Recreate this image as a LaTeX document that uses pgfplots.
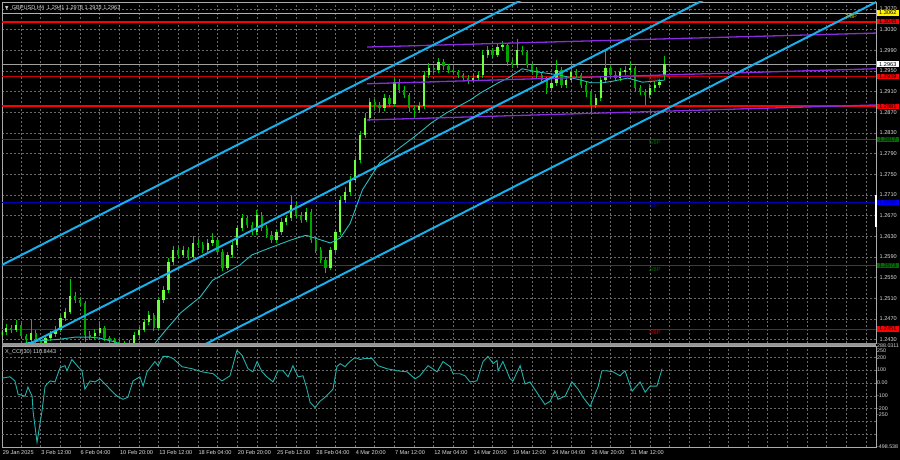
\documentclass[border=0pt]{standalone}
\usepackage{pgfplots}
\usepackage{pgfplotstable}
\pgfplotsset{compat=1.18}
\usepackage{fontspec}
\setmainfont{Liberation Sans}
\newfontfamily\dejavu{DejaVu Sans}
\definecolor{bull}{RGB}{110,255,60}
\definecolor{bear}{RGB}{0,165,0}
\definecolor{wick}{RGB}{0,200,0}
\definecolor{chan}{RGB}{25,175,235}
\definecolor{purp}{RGB}{138,43,226}
\definecolor{ma}{RGB}{40,190,190}
\definecolor{cci}{RGB}{32,178,170}
\definecolor{gridc}{RGB}{105,105,105}
\definecolor{frame}{RGB}{170,170,170}
\definecolor{txt}{RGB}{220,220,220}
\definecolor{lvred}{RGB}{255,0,0}
\definecolor{lvred2}{RGB}{200,0,0}
\definecolor{lvgreen}{RGB}{0,105,0}
\definecolor{lvblue}{RGB}{0,0,175}
\definecolor{lvyellow}{RGB}{200,200,0}
\definecolor{lvgrey}{RGB}{160,160,160}
\definecolor{sep}{RGB}{150,150,150}

\pgfplotstableread{
i o h l c
0 1.2440 1.2452 1.2435 1.2445
2 1.2445 1.2460 1.2440 1.2453
4 1.2453 1.2459 1.2443 1.2449
6 1.2449 1.2468 1.2444 1.2458
8 1.2458 1.2462 1.2431 1.2437
10 1.2437 1.2441 1.2423 1.2429
12 1.2429 1.2468 1.2425 1.2443
14 1.2443 1.2448 1.2422 1.2429
16 1.2429 1.2434 1.2418 1.2424
18 1.2424 1.2438 1.2420 1.2433
20 1.2433 1.2447 1.2428 1.2441
22 1.2441 1.2456 1.2436 1.2449
24 1.2449 1.2478 1.2445 1.2472
26 1.2472 1.2491 1.2466 1.2484
28 1.2484 1.2547 1.2480 1.2515
30 1.2515 1.2522 1.2500 1.2507
32 1.2507 1.2513 1.2495 1.2501
34 1.2501 1.2505 1.2426 1.2439
36 1.2439 1.2446 1.2430 1.2437
38 1.2437 1.2450 1.2432 1.2443
40 1.2443 1.2466 1.2438 1.2453
42 1.2453 1.2457 1.2427 1.2433
44 1.2433 1.2438 1.2423 1.2429
46 1.2429 1.2434 1.2420 1.2426
48 1.2426 1.2430 1.2416 1.2422
50 1.2422 1.2428 1.2413 1.2420
52 1.2420 1.2430 1.2415 1.2424
54 1.2424 1.2445 1.2420 1.2439
56 1.2439 1.2455 1.2434 1.2449
58 1.2449 1.2470 1.2444 1.2464
60 1.2464 1.2486 1.2458 1.2478
62 1.2478 1.2482 1.2447 1.2453
64 1.2453 1.2513 1.2449 1.2507
66 1.2507 1.2534 1.2500 1.2526
68 1.2526 1.2588 1.2520 1.2580
70 1.2580 1.2612 1.2575 1.2604
72 1.2604 1.2610 1.2588 1.2594
74 1.2594 1.2612 1.2588 1.2604
76 1.2604 1.2610 1.2584 1.2590
78 1.2590 1.2630 1.2586 1.2617
80 1.2617 1.2624 1.2607 1.2613
82 1.2613 1.2619 1.2598 1.2604
84 1.2604 1.2624 1.2599 1.2617
86 1.2617 1.2636 1.2612 1.2623
88 1.2623 1.2628 1.2594 1.2600
90 1.2600 1.2605 1.2563 1.2569
92 1.2569 1.2600 1.2564 1.2594
94 1.2594 1.2620 1.2588 1.2613
96 1.2613 1.2652 1.2608 1.2646
98 1.2646 1.2673 1.2640 1.2665
100 1.2665 1.2670 1.2646 1.2652
102 1.2652 1.2658 1.2632 1.2638
104 1.2638 1.2680 1.2633 1.2671
106 1.2671 1.2676 1.2640 1.2646
108 1.2646 1.2652 1.2627 1.2633
110 1.2633 1.2640 1.2617 1.2623
112 1.2623 1.2645 1.2618 1.2638
114 1.2638 1.2665 1.2632 1.2658
116 1.2658 1.2672 1.2652 1.2665
118 1.2665 1.2710 1.2660 1.2691
120 1.2691 1.2697 1.2665 1.2671
122 1.2671 1.2677 1.2656 1.2662
124 1.2662 1.2684 1.2657 1.2677
126 1.2677 1.2682 1.2617 1.2623
128 1.2623 1.2628 1.2598 1.2604
130 1.2604 1.2610 1.2578 1.2584
132 1.2584 1.2590 1.2559 1.2569
134 1.2569 1.2610 1.2564 1.2604
136 1.2604 1.2645 1.2598 1.2638
138 1.2638 1.2708 1.2632 1.2700
140 1.2700 1.2725 1.2694 1.2716
142 1.2716 1.2746 1.2710 1.2739
144 1.2739 1.2786 1.2733 1.2778
146 1.2778 1.2834 1.2772 1.2826
148 1.2826 1.2868 1.2820 1.2859
150 1.2859 1.2898 1.2853 1.2890
152 1.2890 1.2896 1.2876 1.2884
154 1.2884 1.2890 1.2870 1.2878
156 1.2878 1.2905 1.2872 1.2898
158 1.2898 1.2904 1.2880 1.2886
160 1.2886 1.2938 1.2880 1.2928
162 1.2928 1.2934 1.2907 1.2913
164 1.2913 1.2920 1.2897 1.2903
166 1.2903 1.2908 1.2870 1.2878
168 1.2878 1.2884 1.2861 1.2874
170 1.2874 1.2890 1.2868 1.2882
172 1.2882 1.2950 1.2876 1.2942
174 1.2942 1.2965 1.2936 1.2956
176 1.2956 1.2962 1.2946 1.2952
178 1.2952 1.2975 1.2946 1.2967
180 1.2967 1.2972 1.2952 1.2959
182 1.2959 1.2964 1.2946 1.2952
184 1.2952 1.2958 1.2942 1.2948
186 1.2948 1.2952 1.2936 1.2942
188 1.2942 1.2946 1.2930 1.2936
190 1.2936 1.2942 1.2924 1.2932
192 1.2932 1.2944 1.2926 1.2936
194 1.2936 1.2950 1.2930 1.2942
196 1.2942 1.2990 1.2936 1.2981
198 1.2981 1.2998 1.2975 1.2990
200 1.2990 1.2995 1.2975 1.2981
202 1.2981 1.3004 1.2976 1.2996
204 1.2996 1.3008 1.2990 1.3000
206 1.3000 1.3004 1.2960 1.2967
208 1.2967 1.2972 1.2955 1.2961
210 1.2961 1.3012 1.2956 1.2990
212 1.2990 1.2998 1.2980 1.2986
214 1.2986 1.2990 1.2955 1.2961
216 1.2961 1.2966 1.2946 1.2952
218 1.2952 1.2958 1.2936 1.2942
220 1.2942 1.2948 1.2926 1.2932
222 1.2932 1.2938 1.2905 1.2917
224 1.2917 1.2934 1.2911 1.2927
226 1.2927 1.2971 1.2921 1.2952
228 1.2952 1.2957 1.2917 1.2923
230 1.2923 1.2940 1.2917 1.2932
232 1.2932 1.2965 1.2926 1.2948
234 1.2948 1.2954 1.2936 1.2942
236 1.2942 1.2946 1.2917 1.2923
238 1.2923 1.2928 1.2900 1.2909
240 1.2909 1.2913 1.2868 1.2884
242 1.2884 1.2905 1.2878 1.2898
244 1.2898 1.2940 1.2892 1.2932
246 1.2932 1.2990 1.2926 1.2956
248 1.2956 1.2960 1.2936 1.2942
250 1.2942 1.2948 1.2930 1.2936
252 1.2936 1.2955 1.2930 1.2948
254 1.2948 1.2960 1.2942 1.2952
256 1.2952 1.2969 1.2946 1.2956
258 1.2956 1.2960 1.2911 1.2917
260 1.2917 1.2923 1.2903 1.2909
262 1.2909 1.2915 1.2884 1.2903
264 1.2903 1.2925 1.2897 1.2917
266 1.2917 1.2930 1.2911 1.2923
268 1.2923 1.2935 1.2917 1.2928
270 1.2941 1.2978 1.2933 1.2963
}\candles

\newcommand\sm{\fontsize{5.6}{6}\selectfont}

\begin{document}
\begin{tikzpicture}
\useasboundingbox (0,0) rectangle (900pt,460pt);
\fill[black] (0,0) rectangle (900pt,460pt);

\begin{axis}[
  at={(2pt,117pt)}, anchor=south west,
  scale only axis, width=874pt, height=341pt,
  xmin=0.24, xmax=356.1, ymin=1.24236, ymax=1.30831,
  axis background/.style={fill=black},
  axis line style={draw=frame, line width=0.8pt},
  xtick={8,16,...,352}, xticklabels={},
  ytick={1.2430,1.2470,1.2510,1.2550,1.2590,1.2630,1.2670,1.2710,1.2750,1.2790,1.2830,1.2870,1.2910,1.2950,1.2990,1.3030,1.3070},
  yticklabel pos=right,
  yticklabel={\pgfmathprintnumber[fixed,fixed zerofill,precision=4,assume math mode=true]{\tick}},
  yticklabel style={font=\sm, text=txt, inner sep=1pt, xshift=2.5pt},
  grid=major,
  major grid style={draw=gridc, dash pattern=on 2pt off 2pt, line width=0.5pt},
  tick style={draw=none},
  clip mode=individual,
]
% level lines
\addplot[lvyellow, line width=0.6pt] coordinates {(0,1.3062) (360,1.3062)};
\addplot[lvred, line width=2pt] coordinates {(0,1.3045) (360,1.3045)};
\addplot[lvgrey, line width=0.7pt] coordinates {(0,1.2963) (360,1.2963)};
\addplot[lvred2, line width=0.6pt] coordinates {(0,1.2939) (360,1.2939)};
\addplot[lvred, line width=2pt] coordinates {(0,1.2881) (360,1.2881)};
\addplot[lvgreen, line width=0.6pt] coordinates {(0,1.2817) (360,1.2817)};
\addplot[lvblue, line width=0.6pt] coordinates {(0,1.2695) (360,1.2695)};
\addplot[lvgreen, line width=0.6pt] coordinates {(0,1.2573) (360,1.2573)};
\addplot[lvred2, line width=0.6pt] coordinates {(0,1.2451) (360,1.2451)};

% candles: wicks
\addplot[draw=none, mark=none, error bars/.cd, y dir=both, y explicit, error mark=none,
  error bar style={draw=wick, line width=0.7pt}]
  table[x=i, y expr={(\thisrow{h}+\thisrow{l})/2}, y error expr={(\thisrow{h}-\thisrow{l})/2}] {\candles};
% bull bodies
\addplot[draw=none, mark=none, error bars/.cd, y dir=both, y explicit, error mark=none,
  error bar style={draw=bull, line width=2.3pt}]
  table[x=i, y expr={(\thisrow{o}+\thisrow{c})/2}, y error expr={(\thisrow{c}>=\thisrow{o})*abs(\thisrow{c}-\thisrow{o})/2}] {\candles};
% bear bodies
\addplot[draw=none, mark=none, error bars/.cd, y dir=both, y explicit, error mark=none,
  error bar style={draw=bear, line width=2.3pt}]
  table[x=i, y expr={(\thisrow{o}+\thisrow{c})/2}, y error expr={(\thisrow{c}<\thisrow{o})*abs(\thisrow{c}-\thisrow{o})/2}] {\candles};

% moving average
\addplot[ma, line width=0.9pt] coordinates {
(0,1.2414) (8,1.2422) (16,1.2428) (24,1.2431) (30,1.2435) (36,1.2435) (40,1.2433) (46,1.2426)
(52,1.2414) (62,1.2420) (67,1.2449) (73,1.2482) (81,1.2513) (86,1.2545) (97,1.2574) (102,1.2594)
(109,1.2607) (118,1.2623) (124,1.2632) (130,1.2623) (134,1.2617) (138,1.2627) (142,1.2655)
(147,1.2720) (154,1.2772) (161,1.2797) (168,1.2822) (175,1.2849) (181,1.2868) (191,1.2894)
(195,1.2907) (202,1.2926) (207,1.2938) (212,1.2954) (218,1.2948) (227,1.2942) (236,1.2932)
(240,1.2927) (245,1.2927) (249,1.2930) (255,1.2936) (261,1.2928) (270,1.2932)};

% regression channel
\addplot[purp, line width=1.3pt] coordinates {(148.9,1.2996) (356.1,1.3023)};
\addplot[purp, line width=1.3pt] coordinates {(148.9,1.2925) (356.1,1.2954)};
\addplot[purp, line width=1.3pt] coordinates {(148.9,1.2855) (356.1,1.2884)};

% trend channel
\addplot[chan, line width=2pt] coordinates {(0,1.2574) (220,1.3107)};
\addplot[chan, line width=2pt] coordinates {(0,1.2394) (290,1.3097)};
\addplot[chan, line width=2pt] coordinates {(80,1.2414) (357,1.3085)};

% level names
\node[text=lvred2, anchor=north, inner sep=1pt, font=\sm] at (axis cs:266,1.2939) {6/8P};
\node[text=lvgreen, anchor=north, inner sep=1pt, font=\sm] at (axis cs:266,1.2817) {5/8P};
\node[text=lvblue, anchor=north, inner sep=1pt, font=\sm] at (axis cs:266,1.2695) {4/8P};
\node[text=lvgreen, anchor=north, inner sep=1pt, font=\sm] at (axis cs:266,1.2573) {3/8P};
\node[text=lvred2, anchor=north, inner sep=1pt, font=\sm] at (axis cs:266,1.2451) {2/8P};
\node[text=lvyellow, anchor=north, inner sep=1pt, font=\sm] at (axis cs:346,1.3062) {7/8P};

% price boxes on the right scale
\tikzset{pbox/.style={anchor=west, inner xsep=0.5pt, inner ysep=0.7pt, minimum width=22pt, font=\sm, xshift=0.6pt}}
\node[pbox, fill=yellow, text=black] at (axis cs:356.1,1.3062) {1.3062};
\node[pbox, fill=lvred, text=black] at (axis cs:356.1,1.3045) {1.3045};
\node[pbox, fill=white, text=black] at (axis cs:356.1,1.2963) {1.2963};
\node[pbox, fill=lvred, text=black] at (axis cs:356.1,1.2939) {1.2939};
\node[pbox, fill=lvred, text=black] at (axis cs:356.1,1.2881) {1.2881};
\node[pbox, fill=lvgreen, text=black] at (axis cs:356.1,1.2817) {1.2817};
\node[pbox, fill=blue, text={rgb,255:red,0;green,0;blue,110}] at (axis cs:356.1,1.2695) {1.2695};
\node[pbox, fill=lvgreen, text=black] at (axis cs:356.1,1.2573) {1.2573};
\node[pbox, fill=lvred, text=black] at (axis cs:356.1,1.2451) {1.2451};
\draw[white, line width=1.6pt] (axis cs:356.1,1.2710) -- (axis cs:356.1,1.2648);

% title
\node[anchor=north west, inner sep=0pt, text=txt, font=\sm] at (rel axis cs:0,1) [xshift=3pt, yshift=-3pt]
  {{\dejavu\fontsize{4.5}{5}\selectfont ▼}\ \ GBPUSD,H4\ \ 1.2941 1.2978 1.2933 1.2963};
\end{axis}

\fill[sep] (2pt,114pt) rectangle (876pt,117pt);

\begin{axis}[
  at={(2pt,13pt)}, anchor=south west,
  scale only axis, width=874pt, height=101pt,
  xmin=0.24, xmax=356.1, ymin=-498.538, ymax=288.0311,
  axis background/.style={fill=black},
  axis line style={draw=frame, line width=0.8pt},
  xtick={8,16,...,352},
  xticklabels={,3 Feb 12:00,,6 Feb 04:00,,10 Feb 20:00,,13 Feb 12:00,,18 Feb 04:00,,20 Feb 20:00,,25 Feb 12:00,,28 Feb 04:00,,4 Mar 20:00,,7 Mar 12:00,,12 Mar 04:00,,14 Mar 20:00,,19 Mar 12:00,,24 Mar 04:00,,26 Mar 20:00,,31 Mar 12:00,,,,,,,,,,,,},
  xticklabel style={anchor=north west, inner sep=0pt, yshift=-3pt, xshift=0.5pt, font=\sm, text=txt},
  ytick={-498.538,-250,-200,-100,0,100,200,250,288.0311},
  yticklabels={-498.538,-250,-200,-100,0.00,100,200,250,288.0311},
  yticklabel pos=right,
  yticklabel style={font=\fontsize{5.3}{5.5}\selectfont, text=txt, inner sep=0.5pt, xshift=0.5pt},
  xmajorgrids=true, ymajorgrids=false,
  extra y ticks={-400,-300,-200,-100,0,100,200},
  extra y tick labels={},
  extra y tick style={ymajorgrids=true},
  major grid style={draw=gridc, dash pattern=on 2pt off 2pt, line width=0.5pt},
  tick style={draw=none},
  clip mode=individual,
]
\addplot[cci, line width=0.9pt] coordinates {
(0,37) (3.5,48) (5.5,16) (6.8,-87) (9.6,-103) (10.8,-32) (12.5,-103) (12.9,-223) (14.5,-461)
(16.5,-223) (17.8,-24) (19.8,16) (21.8,8) (23.9,119) (25.9,135) (26.7,95) (28.7,183) (30.8,135)
(32.8,95) (34,-48) (36.1,16) (38.1,8) (40.1,32) (42.2,-8) (44.2,-48) (47.1,-103) (49.5,-127)
(51.5,-111) (53.6,16) (56.4,48) (57.7,-24) (59.3,87) (62.5,167) (63.8,135) (65.8,207) (67.8,207)
(69.9,191) (73.5,127) (77.6,111) (81.7,87) (86.2,72) (89.8,16) (93.1,56) (95.9,254) (98,215)
(100.4,111) (102.4,87) (104.1,167) (106.1,87) (108.1,48) (110.6,8) (112.6,95) (114.7,95)
(116.7,48) (118.7,135) (120.8,48) (122.8,56) (124.4,-48) (125.7,-151) (127.7,-191) (129.7,-143)
(131.8,-111) (133,-87) (135,-48) (136.6,127) (137.9,151) (139.9,127) (141.9,167) (144,199)
(146,183) (148,191) (150.9,191) (153.3,135) (157,111) (161.1,95) (165.2,87) (168.4,32) (170.4,56)
(173.7,135) (177.4,87) (179.8,167) (182.7,127) (183.9,72) (186.7,72) (188.8,56) (190.8,8)
(193.6,16) (196.1,167) (198.1,207) (200.2,151) (201.8,175) (202.2,95) (204.2,167) (207.1,32)
(208.3,16) (211.2,135) (213.2,-8) (215.2,8) (219.3,-111) (221.3,-167) (223.4,-143) (225.4,-64)
(226.6,-127) (229.5,-103) (232.3,8) (234.8,-48) (236.8,-111) (239.7,-183) (241.7,-87) (242.9,-32)
(244.5,95) (246.6,95) (249,87) (251.9,56) (253.9,95) (256.8,-64) (260,8) (262.1,-72) (264.1,-24)
(266.9,-24) (269,110.8443)};
\node[anchor=north west, inner sep=0pt, text=txt, font=\sm] at (rel axis cs:0,1) [xshift=3pt, yshift=-3pt] {X\_CCI(30) 110.8443};
\node[anchor=north west, inner sep=0pt, text=txt, font=\sm] at (axis cs:0.5,-498.538) [yshift=-3pt] {29 Jan 2025};
\end{axis}
\end{tikzpicture}
\end{document}
